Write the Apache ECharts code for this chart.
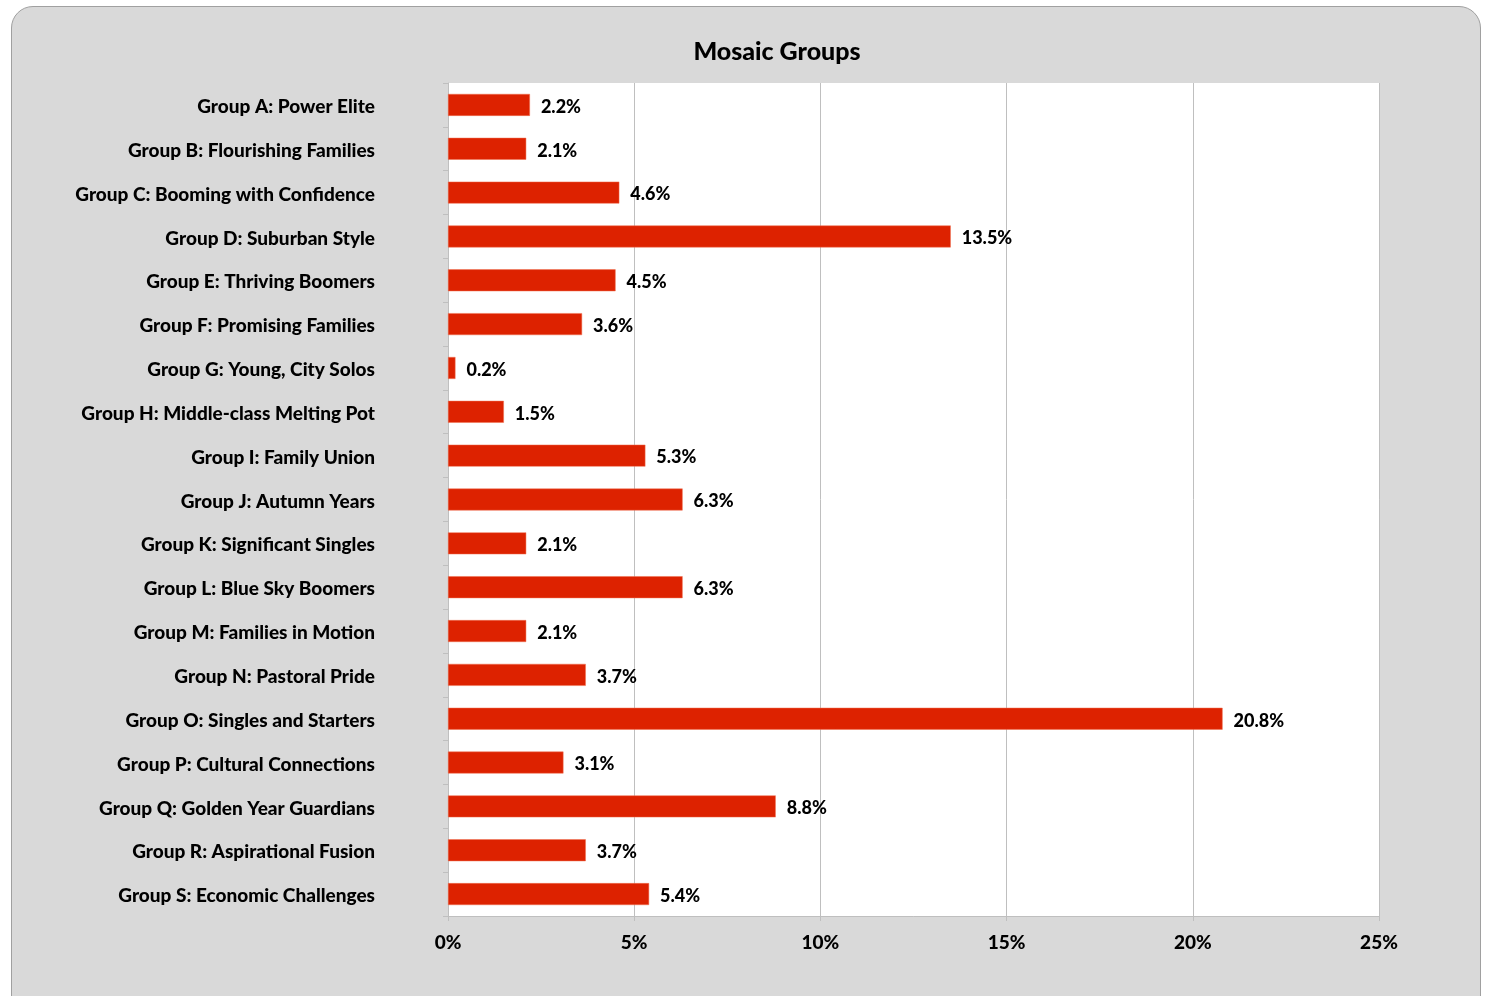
<!DOCTYPE html>
<html>
<head>
<meta charset="utf-8">
<script src="https://cdn.jsdelivr.net/npm/echarts@6/dist/echarts.min.js"></script>
<style>
html,body{margin:0;padding:0;background:#fff;overflow:hidden;}
#frame{position:absolute;left:11px;top:6px;width:1468px;height:1010px;background:#D9D9D9;border:1.5px solid #A0A0A0;border-radius:22px;}
#chart{position:absolute;left:0;top:0;width:1488px;height:996px;}
</style>
</head>
<body>
<div id="frame"></div>
<div id="chart"></div>
<script>
const categories = [
  "Group A: Power Elite",
  "Group B: Flourishing Families",
  "Group C: Booming with Confidence",
  "Group D: Suburban Style",
  "Group E: Thriving Boomers",
  "Group F: Promising Families",
  "Group G: Young, City Solos",
  "Group H: Middle-class Melting Pot",
  "Group I: Family Union",
  "Group J: Autumn Years",
  "Group K: Significant Singles",
  "Group L: Blue Sky Boomers",
  "Group M: Families in Motion",
  "Group N: Pastoral Pride",
  "Group O: Singles and Starters",
  "Group P: Cultural Connections",
  "Group Q: Golden Year Guardians",
  "Group R: Aspirational Fusion",
  "Group S: Economic Challenges"
];
const values = [2.2, 2.1, 4.6, 13.5, 4.5, 3.6, 0.2, 1.5, 5.3, 6.3, 2.1, 6.3, 2.1, 3.7, 20.8, 3.1, 8.8, 3.7, 5.4];
const xTicks = [0, 5, 10, 15, 20, 25];

const FONT = "Lato, 'Open Sans', sans-serif";
const chart = echarts.init(document.getElementById('chart'));
chart.setOption({
  backgroundColor: 'transparent',
  animation: false,
  title: {
    text: 'Mosaic Groups',
    left: 772, top: 34,
    textAlign: 'center',
    textStyle: {fontFamily: FONT, fontWeight: 900, fontSize: 25, color: '#000'}
  },
  grid: {left: 448, right: 109, top: 83, bottom: 80, backgroundColor: '#fff', show: true, borderWidth: 0},
  xAxis: {
    type: 'value', min: xTicks[0], max: xTicks[xTicks.length - 1], interval: 5,
    axisLine: {show: true, lineStyle: {color: '#BFBFBF', width: 1}},
    axisTick: {show: true, length: 5, lineStyle: {color: '#BFBFBF'}},
    splitLine: {show: true, lineStyle: {color: '#BFBFBF', width: 1}},
    axisLabel: {formatter: v => v + '%', fontFamily: FONT, fontWeight: 900, fontSize: 19, color: '#000', margin: 17}
  },
  yAxis: {
    type: 'category', data: categories, inverse: true,
    axisLine: {show: true, lineStyle: {color: '#BFBFBF', width: 1}},
    axisTick: {show: true, length: 5, lineStyle: {color: '#BFBFBF'}},
    axisLabel: {
      margin: 73,
      formatter: v => '{a|' + v + '}',
      rich: {a: {fontFamily: FONT, fontWeight: 900, fontSize: 19, color: '#000', padding: [4, 0, 0, 0]}}
    }
  },
  series: [{
    type: 'bar', data: values, barCategoryGap: '50%',
    itemStyle: {color: '#DD2200', borderColor: '#F07050', borderWidth: 0.5},
    label: {show: true, position: 'right', distance: 10, offset: [1, 2], formatter: p => p.value.toFixed(1) + '%',
      fontFamily: FONT, fontWeight: 900, fontSize: 18, color: '#000'}
  }]
});
</script>
</body>
</html>
